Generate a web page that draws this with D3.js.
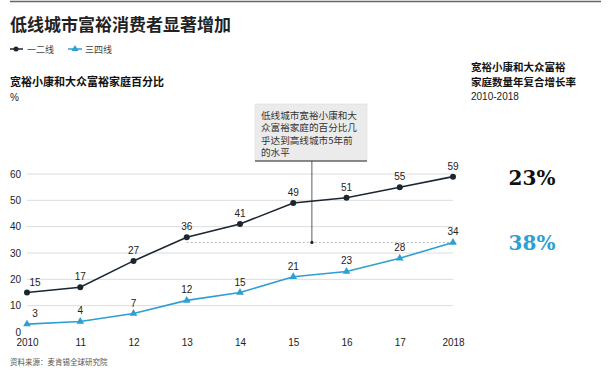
<!DOCTYPE html>
<html><head><meta charset="utf-8">
<script src="https://cdn.jsdelivr.net/npm/d3@7/dist/d3.min.js"></script>
<style>
body{margin:0;background:#fff;}
svg{display:block;}
</style></head>
<body>
<script>
const years = [2010, 2011, 2012, 2013, 2014, 2015, 2016, 2017, 2018];
const tickLabels = ["2010", "11", "12", "13", "14", "15", "16", "17", "2018"];
const tier12 = [15, 17, 27, 36, 41, 49, 51, 55, 59];
const tier34 = [3, 4, 7, 12, 15, 21, 23, 28, 34];
const seriesNames = ["一二线", "三四线"];
const yTicks = [0, 10, 20, 30, 40, 50, 60];
const cagr = ["23%", "38%"];
const annotationLines = ["低线城市宽裕小康和大", "众富裕家庭的百分比几", "乎达到高线城市5年前", "的水平"];
const annotationAnchor = {year: 2015.35, value: 34};
const dashedFrom = {year: 2013, value: 34};

const W = 609, H = 380;
const CJK = "'Noto Sans CJK SC', sans-serif";
const NUM = "'Liberation Sans', Arial, sans-serif";
const colDark = "#1b2631", colBlue = "#2e9fd2";

const svg = d3.select("body").append("svg").attr("width", W).attr("height", H);

// top rule
svg.append("line").attr("x1", 10).attr("x2", 601).attr("y1", 1.5).attr("y2", 1.5)
  .attr("stroke", "#666").attr("stroke-width", 1.5);

svg.append("text").attr("x", 10).attr("y", 31).text("低线城市富裕消费者显著增加")
  .attr("font-family", CJK).attr("font-weight", 700).attr("font-size", 17).attr("fill", "#222");

// legend
const leg = svg.append("g").attr("transform", "translate(0,49)");
leg.append("line").attr("x1", 10).attr("x2", 23).attr("stroke", colDark).attr("stroke-width", 1.5);
leg.append("circle").attr("cx", 16).attr("r", 2.5).attr("fill", colDark);
leg.append("text").attr("x", 27).attr("y", 3.5).text(seriesNames[0])
  .attr("font-family", CJK).attr("font-size", 9).attr("fill", "#444");
leg.append("line").attr("x1", 68).attr("x2", 82).attr("stroke", colBlue).attr("stroke-width", 1.5);
leg.append("path").attr("d", d3.symbol(d3.symbolTriangle, 22)()).attr("transform", "translate(75,0)").attr("fill", colBlue);
leg.append("text").attr("x", 85).attr("y", 3.5).text(seriesNames[1])
  .attr("font-family", CJK).attr("font-size", 9).attr("fill", "#444");

svg.append("text").attr("x", 10).attr("y", 86).text("宽裕小康和大众富裕家庭百分比")
  .attr("font-family", CJK).attr("font-weight", 700).attr("font-size", 11).attr("fill", "#111");
svg.append("text").attr("x", 10).attr("y", 101).text("%")
  .attr("font-family", NUM).attr("font-size", 10).attr("fill", "#222");

// right header
const rh = svg.append("g").attr("font-family", CJK).attr("font-weight", 700).attr("font-size", 10.5).attr("fill", "#111");
rh.append("text").attr("x", 471).attr("y", 71).text("宽裕小康和大众富裕");
rh.append("text").attr("x", 471).attr("y", 86).text("家庭数量年复合增长率");
svg.append("text").attr("x", 471).attr("y", 100).text("2010-2018")
  .attr("font-family", NUM).attr("font-size", 10).attr("fill", "#222");

// scales
const x = d3.scaleLinear().domain([2010, 2018]).range([27, 453]);
const y = d3.scaleLinear().domain([0, 60]).range([332, 174]);

// gridlines
svg.append("g").selectAll("line").data(yTicks.filter(d => d > 0)).join("line")
  .attr("x1", x(2010)).attr("x2", x(2018)).attr("y1", d => y(d)).attr("y2", d => y(d))
  .attr("stroke", "#dcdcdc").attr("stroke-width", 1);

// y axis
const yAxis = d3.axisLeft(y).tickValues(yTicks).tickSize(0).tickPadding(0);
const ya = svg.append("g").attr("transform", "translate(21,0)").call(yAxis);
ya.select(".domain").remove();
ya.selectAll("text").attr("font-family", NUM).attr("font-size", 10).attr("fill", "#222");

// x axis
const xAxis = d3.axisBottom(x).tickValues(years).tickFormat((d, i) => tickLabels[i]).tickSize(0).tickPadding(0);
const xa = svg.append("g").attr("transform", "translate(0,339)").call(xAxis);
xa.select(".domain").remove();
xa.selectAll("text").attr("font-family", NUM).attr("font-size", 10).attr("fill", "#222");

// dashed reference line
svg.append("line").attr("x1", x(dashedFrom.year)).attr("x2", x(2018))
  .attr("y1", y(dashedFrom.value)).attr("y2", y(dashedFrom.value))
  .attr("stroke", "#aaa").attr("stroke-width", 0.8).attr("stroke-dasharray", "2,2");

// annotation
const ax = x(annotationAnchor.year), ay = y(annotationAnchor.value);
svg.append("rect").attr("x", 255).attr("y", 104).attr("width", 112).attr("height", 57)
  .attr("fill", "#ebebeb").attr("stroke", "#d8d8d8").attr("stroke-width", 0.5);
svg.append("line").attr("x1", 255).attr("x2", 367).attr("y1", 161).attr("y2", 161)
  .attr("stroke", "#222").attr("stroke-width", 1);
svg.append("line").attr("x1", ax).attr("x2", ax).attr("y1", 161).attr("y2", ay)
  .attr("stroke", "#333").attr("stroke-width", 0.8);
svg.append("circle").attr("cx", ax).attr("cy", ay).attr("r", 1.6).attr("fill", "#222");
svg.append("g").selectAll("text").data(annotationLines).join("text")
  .attr("x", 261).attr("y", (d, i) => 118.5 + i * 12.5).text(d => d)
  .attr("font-family", CJK).attr("font-size", 9.6).attr("fill", "#333");

// lines
const line = d3.line().x((d, i) => x(years[i])).y(d => y(d));
function drawSeries(vals, col, sym) {
  svg.append("path").datum(vals).attr("d", line).attr("fill", "none")
    .attr("stroke", col).attr("stroke-width", 1.6);
  const g = svg.append("g");
  if (sym === "circle") {
    g.selectAll("circle").data(vals).join("circle")
      .attr("cx", (d, i) => x(years[i])).attr("cy", d => y(d)).attr("r", 3).attr("fill", col);
  } else {
    g.selectAll("path").data(vals).join("path")
      .attr("d", d3.symbol(d3.symbolTriangle, 26)())
      .attr("transform", (d, i) => `translate(${x(years[i])},${y(d)})`).attr("fill", col);
  }
  svg.append("g").selectAll("text").data(vals).join("text")
    .attr("x", (d, i) => x(years[i]) + (i === 0 ? 8 : 0))
    .attr("y", d => y(d) - 7).attr("text-anchor", "middle").text(d => d)
    .attr("font-family", NUM).attr("font-size", 10).attr("fill", "#222");
}
drawSeries(tier12, colDark, "circle");
drawSeries(tier34, colBlue, "triangle");

// CAGR values
svg.append("text").attr("x", 532).attr("y", y(tier12[8]) + 8).attr("text-anchor", "middle").text(cagr[0])
  .attr("font-family", "'DejaVu Serif', serif").attr("font-weight", 700).attr("font-size", 20).attr("fill", "#111");
svg.append("text").attr("x", 532).attr("y", y(tier34[8]) + 8).attr("text-anchor", "middle").text(cagr[1])
  .attr("font-family", "'DejaVu Serif', serif").attr("font-weight", 700).attr("font-size", 20).attr("fill", colBlue);

// source (scaled to get below browser minimum font size)
svg.append("text").attr("transform", "translate(10,365) scale(0.75)").text("资料来源：麦肯锡全球研究院")
  .attr("font-family", CJK).attr("font-size", 10).attr("fill", "#555");
</script>
</body></html>
